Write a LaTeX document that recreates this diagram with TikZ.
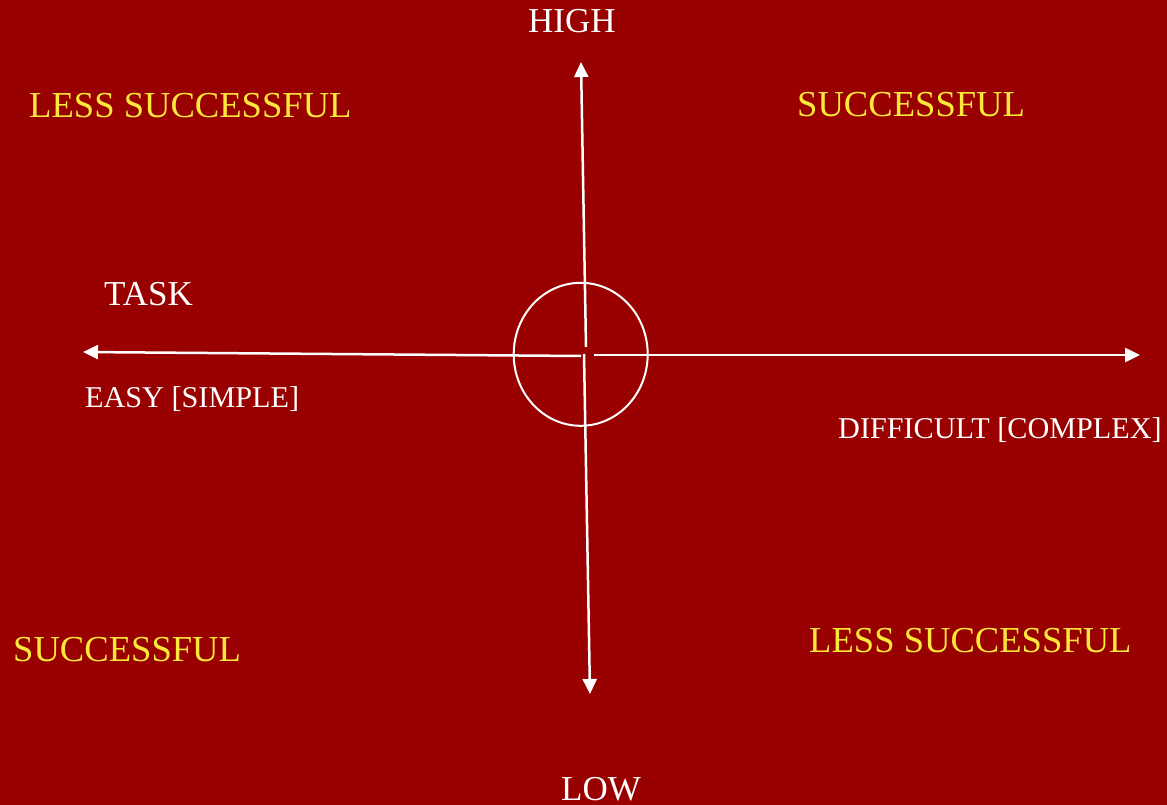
\documentclass[tikz,border=0pt]{standalone}
\usepackage{fontspec}
\setmainfont{Liberation Serif}
\usetikzlibrary{arrows.meta}
\definecolor{bgred}{RGB}{153,0,0}
\definecolor{lblyellow}{RGB}{252,232,58}
\tikzset{
  axis/.style={draw=white, line width=2.5pt, -{Triangle[length=15pt,width=14pt]}},
  big/.style={anchor=base west, inner sep=0pt, font=\fontsize{36.6}{40}\selectfont},
  whitebig/.style={big, text=white, font=\fontsize{35}{40}\selectfont},
  yellowbig/.style={big, text=lblyellow},
  small/.style={anchor=base west, inner sep=0pt, text=white, font=\fontsize{30.2}{34}\selectfont},
}
\begin{document}
\begin{tikzpicture}[x=1pt,y=-1pt]
\fill[bgred] (0,0) rectangle (1167,805);
\useasboundingbox (0,0) rectangle (1167,805);

% crosshair
\draw[white, line width=2pt] (580.7,354.3) ellipse [x radius=67, y radius=71.5];
\coordinate (upS) at (586,347);
\coordinate (upE) at (581,62);
\coordinate (dnS) at (584,354);
\coordinate (dnE) at (590,694);
\coordinate (lfS) at (581,356);
\coordinate (lfE) at (83,352);
\coordinate (rtS) at (594,355);
\coordinate (rtE) at (1140,355);
\draw[axis] (upS) -- (upE);
\draw[axis] (dnS) -- (dnE);
\draw[axis] (lfS) -- (lfE);
\draw[axis] (rtS) -- (rtE);

% labels
\node[whitebig] (high) at (528,33) {HIGH};
\node[whitebig] (low) at (561,800) {LOW};
\node[whitebig] (task) at (104,305) {TASK};
\node[small] (easy) at (85,407) {EASY [SIMPLE]};
\node[small] (diff) at (838,438) {DIFFICULT [COMPLEX]};
\node[yellowbig] (tl) at (29,118) {LESS SUCCESSFUL};
\node[yellowbig] (tr) at (797,117) {SUCCESSFUL};
\node[yellowbig] (bl) at (13,661) {SUCCESSFUL};
\node[yellowbig] (br) at (809,652.5) {LESS SUCCESSFUL};
\end{tikzpicture}
\end{document}
